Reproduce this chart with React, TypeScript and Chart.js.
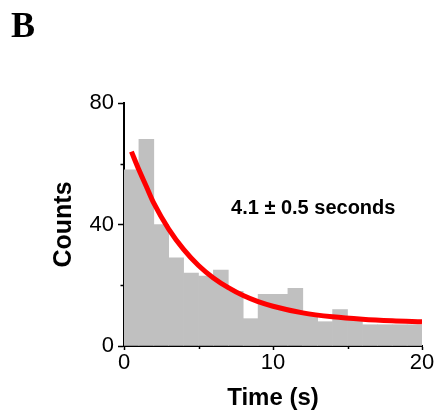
import React, { useEffect, useRef } from 'react';
import { Chart, registerables } from 'chart.js';

Chart.register(...registerables);

// Histogram bins (start of each 1-s bin) and counts
const binStarts = [0, 1, 2, 3, 4, 5, 6, 7, 8, 9, 10, 11, 12, 13, 14, 15, 16, 17, 18, 19];
const binCounts = [58, 68, 40, 29, 24, 23, 25, 18, 9, 17, 17, 19, 10.5, 8, 12, 9, 7, 7, 7, 7];
const binWidth = 1;

// Exponential fit curve
const fitTimes = [0.5, 1, 1.5, 2, 3, 4, 5, 6, 7, 8, 9, 10, 12, 14, 16, 18, 20];
const fitCounts = [64, 58, 52.5, 47, 38.5, 31.8, 26.5, 22.4, 19.2, 16.6, 14.6, 13.1, 10.9, 9.6, 8.8, 8.3, 8.0];

// Axis ticks
const xTickValues = [0, 10, 20];
const xTickLabels = ['0', '10', '20'];
const xMinorTicks = [5, 15];
const yTickValues = [0, 40, 80];
const yTickLabels = ['0', '40', '80'];
const yMinorTicks = [20, 60];

const xTitle = 'Time (s)';
const yTitle = 'Counts';
const panelLabel = 'B';
const annotationText = '4.1 \u00b1 0.5 seconds';
const annotationAt = [12.7, 45.4];

const SANS = '"Liberation Sans", Arial, Helvetica, sans-serif';

const textPlugin = {
  id: 'textPlugin',
  afterDraw(chart: any) {
    const ctx = chart.ctx;
    const xs = chart.scales.x;
    const ys = chart.scales.y;
    const area = chart.chartArea;
    ctx.save();
    // minor ticks (shorter)
    ctx.strokeStyle = '#000';
    ctx.lineWidth = 1.5;
    ctx.beginPath();
    xMinorTicks.forEach((v) => {
      const px = Math.round(xs.getPixelForValue(v)) + 0.5;
      ctx.moveTo(px, area.bottom);
      ctx.lineTo(px, area.bottom + 3);
    });
    yMinorTicks.forEach((v) => {
      const py = Math.round(ys.getPixelForValue(v)) + 0.5;
      ctx.moveTo(area.left, py);
      ctx.lineTo(area.left - 3.5, py);
    });
    ctx.stroke();

    ctx.fillStyle = '#000';
    ctx.font = 'bold 36px "Liberation Serif", "Times New Roman", serif';
    ctx.textAlign = 'left';
    ctx.textBaseline = 'alphabetic';
    ctx.fillText(panelLabel, 11, 37);
    ctx.font = 'bold 20px ' + SANS;
    ctx.textAlign = 'center';
    ctx.textBaseline = 'middle';
    ctx.fillText(annotationText, xs.getPixelForValue(annotationAt[0]), ys.getPixelForValue(annotationAt[1]));
    ctx.restore();
  },
};

export default function App() {
  const canvasRef = useRef<HTMLCanvasElement | null>(null);

  useEffect(() => {
    if (!canvasRef.current) return;
    const chart = new Chart(canvasRef.current, {
      type: 'bar',
      data: {
        datasets: [
          {
            type: 'line',
            data: fitTimes.map((t, i) => ({ x: t, y: fitCounts[i] })),
            borderColor: '#ff0000',
            borderWidth: 5,
            pointRadius: 0,
            cubicInterpolationMode: 'monotone',
            fill: false,
            order: 0,
          } as any,
          {
            type: 'bar',
            data: binStarts.map((s, i) => ({ x: s + binWidth / 2, y: binCounts[i] })),
            backgroundColor: '#c0c0c0',
            borderWidth: 0,
            barPercentage: 1,
            categoryPercentage: 1,
            grouped: false,
            order: 1,
          } as any,
        ],
      },
      options: {
        animation: false,
        responsive: true,
        maintainAspectRatio: false,
        layout: { padding: { left: 49, top: 103, right: 15, bottom: 0 } },
        plugins: {
          legend: { display: false },
          tooltip: { enabled: false },
          title: { display: false },
        },
        scales: {
          x: {
            type: 'linear',
            min: 0,
            max: 20,
            offset: false,
            position: 'bottom',
            grid: {
              display: true,
              drawOnChartArea: false,
              drawTicks: true,
              tickLength: 4,
              tickColor: (c: any) => (xTickValues.indexOf(c.tick?.value) >= 0 ? '#000' : 'rgba(0,0,0,0)'),
              tickWidth: 1.5,
              offset: false,
            },
            border: { display: true, color: '#000', width: 2 },
            ticks: {
              stepSize: 5,
              autoSkip: false,
              maxRotation: 0,
              color: '#000',
              padding: 0,
              font: { family: SANS, size: 22 },
              callback: (v: any) => {
                const idx = xTickValues.indexOf(Number(v));
                return idx >= 0 ? xTickLabels[idx] : '';
              },
            },
            title: {
              display: true,
              text: xTitle,
              color: '#000',
              font: { family: SANS, size: 24, weight: 'bold' },
              padding: { top: 0, bottom: 3 },
            },
            afterFit: (s: any) => {
              s.height = 70;
              s.paddingLeft = 0;
              s.paddingRight = 0;
            },
          } as any,
          y: {
            type: 'linear',
            min: 0,
            max: 80,
            grid: {
              display: true,
              drawOnChartArea: false,
              drawTicks: true,
              tickLength: 6,
              tickColor: (c: any) => (yTickValues.indexOf(c.tick?.value) >= 0 ? '#000' : 'rgba(0,0,0,0)'),
              tickWidth: 1.5,
            },
            border: { display: true, color: '#000', width: 2 },
            ticks: {
              stepSize: 20,
              autoSkip: false,
              color: '#000',
              padding: 4,
              font: { family: SANS, size: 22 },
              callback: (v: any) => {
                const idx = yTickValues.indexOf(Number(v));
                return idx >= 0 ? yTickLabels[idx] : '';
              },
            },
            title: {
              display: true,
              text: yTitle,
              color: '#000',
              font: { family: SANS, size: 25, weight: 'bold' },
              padding: { top: 0, bottom: 0 },
            },
            afterFit: (s: any) => {
              s.width = 75;
              s.paddingTop = 0;
              s.paddingBottom = 0;
            },
          } as any,
        },
      },
      plugins: [textPlugin],
    });
    return () => chart.destroy();
  }, []);

  return (
    <div style={{ position: 'absolute', left: 0, top: 0, width: 437, height: 416, background: '#fff' }}>
      <canvas ref={canvasRef} />
    </div>
  );
}
